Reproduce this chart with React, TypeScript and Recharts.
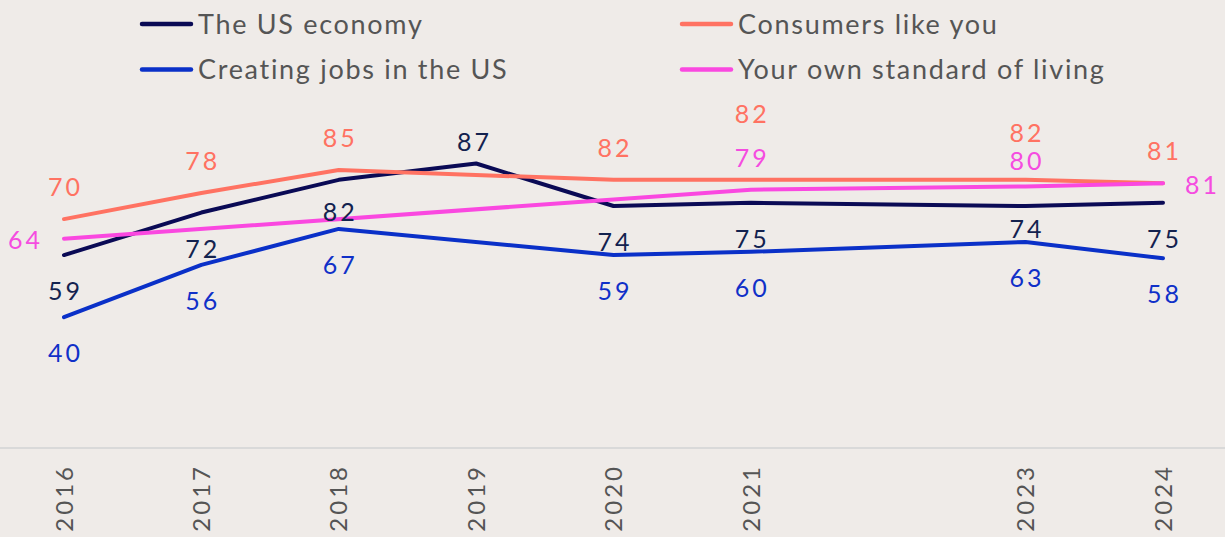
import React from 'react';
import { LineChart, Line, XAxis, YAxis, Legend, LabelList } from 'recharts';

// ---- Data ----
const years = [2016, 2017, 2018, 2019, 2020, 2021, 2023, 2024];
const tickYears = [2016, 2017, 2018, 2019, 2020, 2021, 2023, 2024];
const usEconomy = [59, 72, 82, 87, 74, 75, 74, 75];
const consumersLikeYou = [70, 78, 85, null, 82, 82, 82, 81];
const creatingJobs = [40, 56, 67, null, 59, 60, 63, 58];
const ownStandard = [64, null, null, null, null, 79, 80, 81];

const data = years.map((year, i) => ({
  year,
  economy: usEconomy[i],
  consumers: consumersLikeYou[i],
  jobs: creatingJobs[i],
  standard: ownStandard[i],
}));

// ---- Styles ----
const FONT = 'Lato, sans-serif';
const BG = '#EFEBE8';
const TEXT = '#555555';

type SeriesCfg = {
  key: string;
  name: string;
  color: string;
  labelColor: string;
  dy: number;
  overrides: Record<number, [number, number]>;
};

const series: SeriesCfg[] = [
  { key: 'economy', name: 'The US economy', color: '#0A0A55', labelColor: '#13224F', dy: 36,
    overrides: { 2018: [0, 32], 2019: [-3, -22], 2023: [0, 23] } },
  { key: 'consumers', name: 'Consumers like you', color: '#FF7262', labelColor: '#FF7262', dy: -32,
    overrides: { 2021: [0, -66], 2023: [0, -47] } },
  { key: 'jobs', name: 'Creating jobs in the US', color: '#0A30C8', labelColor: '#1030C8', dy: 36,
    overrides: {} },
  { key: 'standard', name: 'Your own standard of living', color: '#FA48E0', labelColor: '#F54CE0', dy: -32,
    overrides: { 2016: [-40, 1], 2023: [0, -25], 2024: [38, 2] } },
];

const legendLayout = [
  { key: 'economy', col: 0, row: 0 },
  { key: 'consumers', col: 1, row: 0 },
  { key: 'jobs', col: 0, row: 1 },
  { key: 'standard', col: 1, row: 1 },
];
const legendColX = [140, 680];
const legendRowY = [24, 69.5];

const LABEL_SIZE = 25;
const LABEL_SPACING = 3;

const makeLabel = (cfg: SeriesCfg) => (props: any) => {
  const { x, y, value, index } = props;
  if (value === null || value === undefined) return null;
  const yr = years[index];
  const off = cfg.overrides[yr] || [0, cfg.dy];
  return (
    <text
      x={x + off[0] + LABEL_SPACING / 2}
      y={y + off[1] + LABEL_SIZE * 0.36}
      textAnchor="middle"
      fill={cfg.labelColor}
      fontFamily={FONT}
      fontSize={LABEL_SIZE}
      letterSpacing={LABEL_SPACING}
    >
      {value}
    </text>
  );
};

const YearTick = (props: any) => {
  const { x, y, payload } = props;
  return (
    <text
      x={x}
      y={y}
      dy="0.36em"
      transform={`rotate(-90, ${x}, ${y})`}
      textAnchor="end"
      fill={TEXT}
      fontFamily={FONT}
      fontSize={24}
      letterSpacing={3}
    >
      {payload.value}
    </text>
  );
};

const renderLegend = () => (
  <svg width={1225} height={95} style={{ display: 'block' }}>
    {legendLayout.map((item) => {
      const cfg = series.find((s) => s.key === item.key)!;
      const lx = legendColX[item.col];
      const ly = legendRowY[item.row];
      return (
        <g key={item.key}>
          <line x1={lx + 2} x2={lx + 51} y1={ly} y2={ly} stroke={cfg.color} strokeWidth={4.5} strokeLinecap="round" />
          <text x={lx + 58} y={ly + 9.5} fill={TEXT} fontFamily={FONT} fontSize={27} letterSpacing={1.7}>
            {cfg.name}
          </text>
        </g>
      );
    })}
  </svg>
);

export default function App() {
  return (
    <div style={{ position: 'absolute', left: 0, top: 0, width: 1225, height: 537, background: BG }}>
      <LineChart width={1225} height={537} data={data} margin={{ top: 121, right: 0, bottom: 0, left: 0 }}>
        <Legend
          verticalAlign="middle"
          align="center"
          layout="horizontal"
          content={renderLegend}
          wrapperStyle={{ top: 0, left: 0, width: 1225, height: 95 }}
        />
        <XAxis
          dataKey="year"
          type="number"
          domain={[2016, 2024]}
          ticks={tickYears}
          padding={{ left: 64, right: 62 }}
          height={89}
          tickLine={false}
          tickSize={0}
          tickMargin={16}
          axisLine={{ stroke: '#D9D9D9', strokeWidth: 2 }}
          tick={<YearTick />}
          interval={0}
        />
        <YAxis hide domain={[0, 100]} width={0} />
        {series.map((cfg) => (
          <Line
            key={cfg.key}
            dataKey={cfg.key}
            name={cfg.name}
            stroke={cfg.color}
            strokeWidth={4}
            strokeLinecap="round"
            strokeLinejoin="round"
            dot={false}
            activeDot={false}
            connectNulls
            isAnimationActive={false}
          >
            <LabelList dataKey={cfg.key} content={makeLabel(cfg)} />
          </Line>
        ))}
      </LineChart>
    </div>
  );
}
